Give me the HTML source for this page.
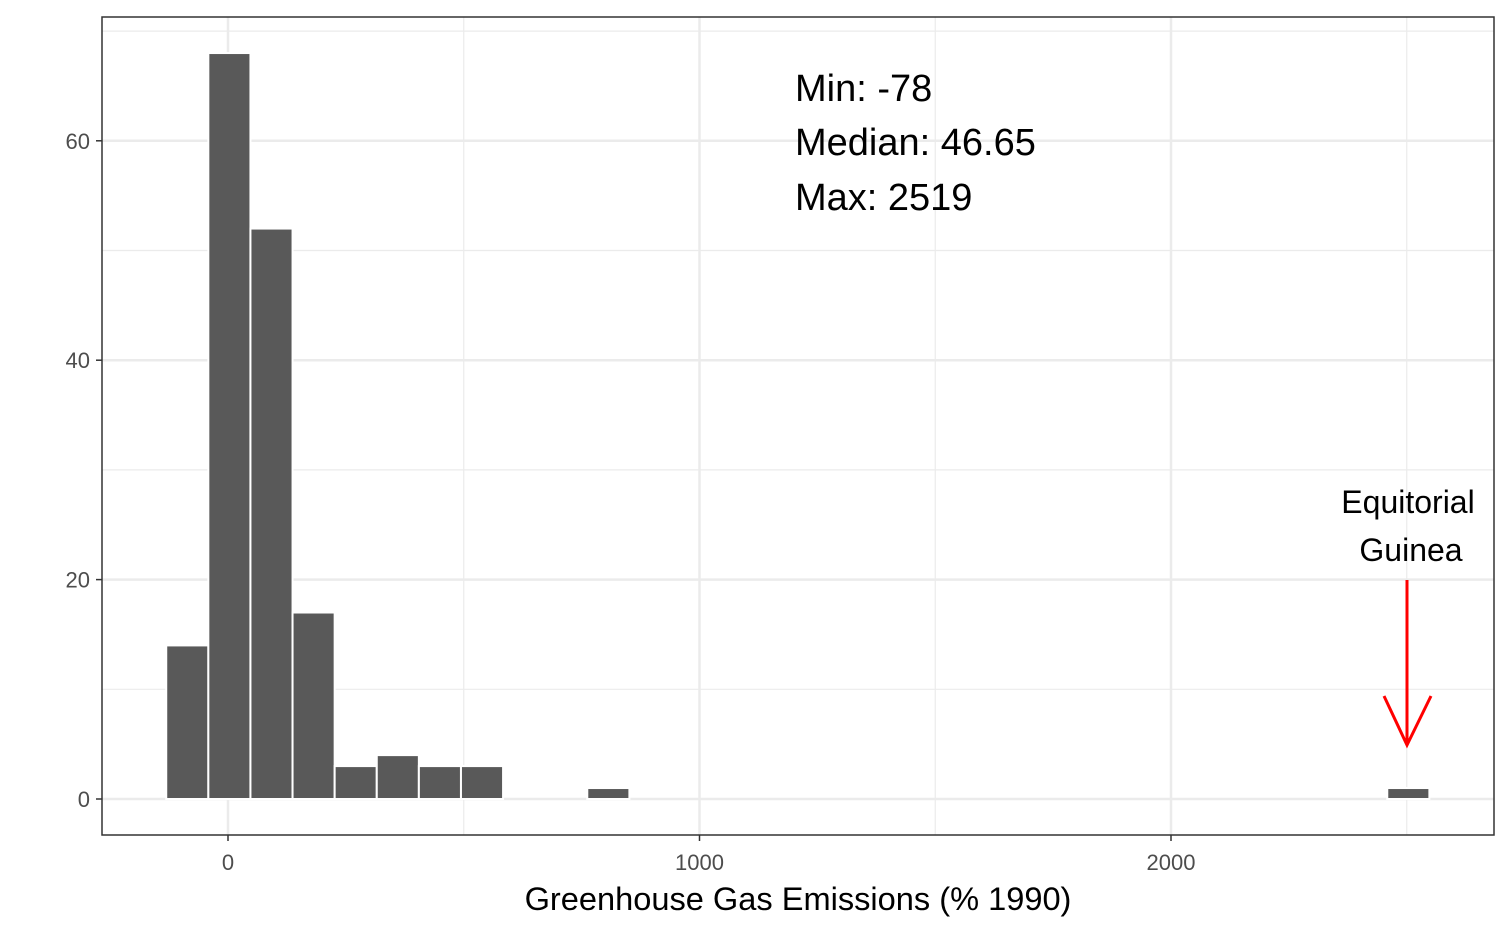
<!DOCTYPE html>
<html><head><meta charset="utf-8"><style>
body{margin:0;background:#fff;}
svg text{font-family:"Liberation Sans",Arial,sans-serif;}
</style></head><body>
<svg id="chart" width="1512" height="934" xmlns="http://www.w3.org/2000/svg">
<g id="grid"></g><g id="bars"></g><g id="axes"></g>
<text x="795" y="101" font-size="38">Min: -78</text>
<text x="795" y="155" font-size="38">Median: 46.65</text>
<text x="795" y="210" font-size="38">Max: 2519</text>
<text x="1408" y="513" font-size="32" text-anchor="middle">Equitorial</text>
<text x="1411" y="561" font-size="32" text-anchor="middle">Guinea</text>
<g stroke="#ff0000" stroke-width="3" fill="none">
<line x1="1407" y1="580" x2="1407" y2="745"/>
<polyline points="1384,696 1407,745 1431,696"/>
</g>
<text x="798" y="910" font-size="32.6" text-anchor="middle">Greenhouse Gas Emissions (% 1990)</text>
</svg>
<script>
const binStart = -131;
const binWidth = 89.3;
const counts = [14,68,52,17,3,4,3,3,0,0,1,0,0,0,0,0,0,0,0,0,0,0,0,0,0,0,0,0,0,1];
const xTicks = [0,1000,2000];
const xMinor = [500,1500,2500];
const yTicks = [0,20,40,60];
const yMinor = [10,30,50,70];
const L=102,R=1494,T=17,B=835;
const xs = v => 228 + v*0.4715;
const ys = v => 799 - v*10.97;
const NS="http://www.w3.org/2000/svg";
function mk(tag,attrs,parent){const e=document.createElementNS(NS,tag);for(const k in attrs)e.setAttribute(k,attrs[k]);parent.appendChild(e);return e;}
const grid=document.getElementById('grid'),bars=document.getElementById('bars'),axes=document.getElementById('axes');
yMinor.forEach(v=>{if(ys(v)<T)return;const l=mk('line',{x1:L,x2:R,y1:ys(v),y2:ys(v),stroke:'#ebebeb','stroke-width':1.2},grid);

});
xMinor.forEach(v=>{const l=mk('line',{x1:xs(v),x2:xs(v),y1:T,y2:B,stroke:'#ebebeb','stroke-width':1.2},grid);

});
yTicks.forEach(v=>{const l=mk('line',{x1:L,x2:R,y1:ys(v),y2:ys(v),stroke:'#ebebeb','stroke-width':2.5},grid);


const t=mk('line',{x1:L-6,x2:L,y1:ys(v),y2:ys(v),stroke:'#333','stroke-width':1.5},axes);


const tx=mk('text',{x:L-12,y:ys(v)+8,'font-size':22,fill:'#4d4d4d','text-anchor':'end'},axes);tx.textContent=v;

});
xTicks.forEach(v=>{const l=mk('line',{x1:xs(v),x2:xs(v),y1:T,y2:B,stroke:'#ebebeb','stroke-width':2.5},grid);


const t=mk('line',{x1:xs(v),x2:xs(v),y1:B,y2:B+6,stroke:'#333','stroke-width':1.5},axes);


const tx=mk('text',{x:xs(v),y:B+35,'font-size':22,fill:'#4d4d4d','text-anchor':'middle'},axes);tx.textContent=v;

});
counts.forEach((c,i)=>{const x0=xs(binStart+i*binWidth),x1=xs(binStart+(i+1)*binWidth);
const r=mk('rect',{x:x0,y:ys(c),width:x1-x0,height:ys(0)-ys(c),fill:'#595959',stroke:'#fff','stroke-width':2},bars);

});
const f=mk('rect',{x:L,y:T,width:R-L,height:B-T,fill:'none',stroke:'#333','stroke-width':1.5},axes);


</script>
</body></html>
